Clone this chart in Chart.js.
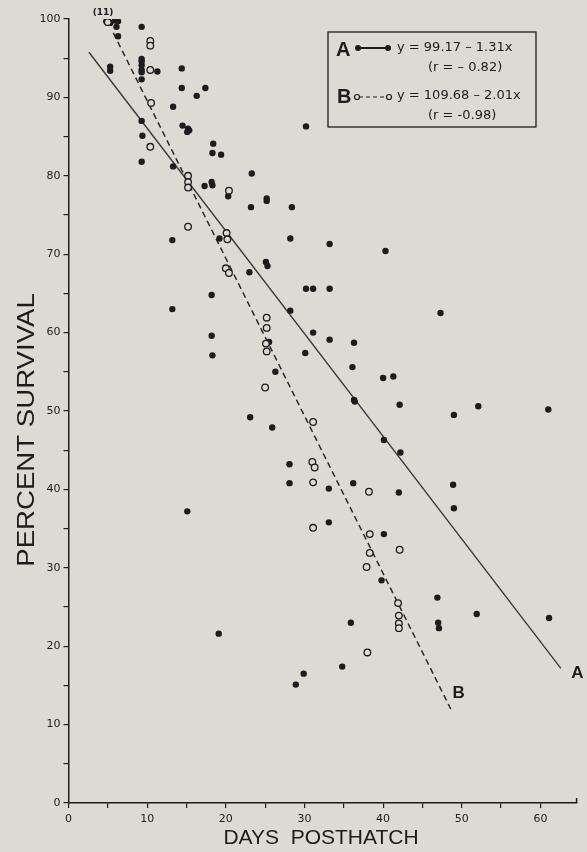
<!DOCTYPE html>
<html>
<head>
<meta charset="utf-8">
<script src="https://cdn.jsdelivr.net/npm/chart.js@4.4.1/dist/chart.umd.min.js"></script>
<style>
  html, body { margin: 0; padding: 0; background: #dcdad2; }
  #wrap { width: 587px; height: 852px; }
</style>
</head>
<body>
<div id="wrap"><canvas id="survivalChart"></canvas></div>
<script>
const ink = '#1c1c1c';
const paper = '#dcdad2';

// A: filled dots
const aDays = [4.8, 5.3, 5.9, 6.3, 6.1, 6.3, 9.3, 5.3, 5.3,
  9.3, 9.3, 9.3, 9.3, 9.3, 9.3, 11.3, 14.4, 14.4, 16.3, 17.4,
  13.3, 9.3, 14.5, 15.2, 15.35, 15.1, 9.4, 9.3, 18.4, 18.3, 19.4, 13.3,
  17.3, 18.2, 18.3, 20.3, 30.2, 23.3, 25.2,
  13.2, 19.2, 18.2, 13.2, 18.2, 18.3,
  23.2, 25.2, 28.4, 28.2, 33.2, 40.3, 25.1, 25.3, 23.0, 30.2, 31.1, 33.2, 28.2,
  31.1, 33.2, 36.3, 25.5, 30.1, 36.1, 26.3, 40.0, 41.3, 36.3, 36.4, 42.1,
  47.3, 52.1, 61.0, 15.1,
  23.1, 25.9, 40.1, 42.2, 28.1, 28.1, 33.1, 36.2, 42.0, 33.1, 40.1, 39.8,
  49.0, 48.9, 49.0, 46.9, 51.9, 61.1, 47.0, 47.1,
  19.1, 35.9, 34.8, 29.9, 28.9];
const aSurvival = [99.7, 99.5, 99.8, 99.7, 99.0, 97.8, 99.0, 93.9, 93.4,
  94.9, 94.6, 94.1, 93.5, 93.2, 92.3, 93.3, 93.7, 91.2, 90.2, 91.2,
  88.8, 87.0, 86.4, 86.0, 85.8, 85.6, 85.1, 81.8, 84.1, 82.9, 82.7, 81.2,
  78.7, 79.2, 78.8, 77.4, 86.3, 80.3, 77.1,
  71.8, 72.0, 64.8, 63.0, 59.6, 57.1,
  76.0, 76.8, 76.0, 72.0, 71.3, 70.4, 69.0, 68.5, 67.7, 65.6, 65.6, 65.6, 62.8,
  60.0, 59.1, 58.7, 58.8, 57.4, 55.6, 55.0, 54.2, 54.4, 51.4, 51.2, 50.8,
  62.5, 50.6, 50.2, 37.2,
  49.2, 47.9, 46.3, 44.7, 43.2, 40.8, 40.1, 40.8, 39.6, 35.8, 34.3, 28.4,
  49.5, 40.6, 37.6, 26.2, 24.1, 23.6, 23.0, 22.3,
  21.6, 23.0, 17.4, 16.5, 15.1];

// B: open circles
const bDays = [5.0, 10.4, 10.4, 10.4, 10.5, 10.4, 15.2, 15.2, 15.2, 20.4,
  15.2, 20.1, 20.2, 20.0, 20.4, 25.2, 25.2, 25.1, 25.2, 25.0,
  31.1, 31.0, 31.3, 31.1, 38.2, 31.1, 38.3, 42.1, 38.3, 37.9,
  41.9, 42.0, 42.0, 42.0, 38.0];
const bSurvival = [99.6, 97.2, 96.6, 93.5, 89.3, 83.7, 80.0, 79.2, 78.5, 78.1,
  73.5, 72.7, 71.9, 68.2, 67.6, 61.9, 60.6, 58.6, 57.6, 53.0,
  48.6, 43.5, 42.8, 40.9, 39.7, 35.1, 34.3, 32.3, 31.9, 30.1,
  25.5, 23.9, 22.9, 22.3, 19.2];

// regression lines as printed in the key, with the x range they are drawn over
const lineA = { intercept: 99.17, slope: -1.31, xFrom: 2.6, xTo: 62.6 };
const lineB = { intercept: 109.68, slope: -2.01, xFrom: 5.7, xTo: 48.6 };

const xMax = 64.6;
const yMax = 100;

function pairs(xs, ys) {
  return xs.map((v, i) => ({ x: v, y: ys[i] }));
}
function ends(l) {
  return [l.xFrom, l.xTo].map(v => ({ x: v, y: l.intercept + l.slope * v }));
}

const annotations = {
  id: 'annotations',
  afterDraw(chart) {
    const { ctx, chartArea, scales: { x, y } } = chart;
    ctx.save();
    ctx.fillStyle = ink;
    ctx.strokeStyle = ink;

    // little hook at the end of the x axis
    ctx.lineWidth = 1.5;
    ctx.beginPath();
    ctx.moveTo(chartArea.right, chartArea.bottom);
    ctx.lineTo(chartArea.right, chartArea.bottom - 5);
    ctx.stroke();

    // axis titles
    ctx.textAlign = 'center';
    ctx.textBaseline = 'middle';
    ctx.font = '21px "Liberation Sans"';
    ctx.fillText('DAYS  POSTHATCH', 321, 838);
    ctx.save();
    ctx.translate(28, 430);
    ctx.rotate(-Math.PI / 2);
    ctx.scale(1.2, 1);
    ctx.font = '23px "Liberation Sans"';
    ctx.fillText('PERCENT SURVIVAL', 0, 0);
    ctx.restore();

    // line end labels
    ctx.font = 'bold 17px "Liberation Sans"';
    ctx.fillText('A', x.getPixelForValue(64.7), y.getPixelForValue(16.6));
    ctx.fillText('B', x.getPixelForValue(49.6), y.getPixelForValue(14.0));

    // count of coincident points
    ctx.font = 'bold 9px "DejaVu Sans"';
    ctx.fillText('(11)', x.getPixelForValue(4.4), y.getPixelForValue(yMax) - 6);

    // key box
    ctx.lineWidth = 1.3;
    ctx.strokeRect(328, 32, 208, 95);
    ctx.textAlign = 'left';
    ctx.font = 'bold 20px "Liberation Sans"';
    ctx.fillText('A', 336, 50);
    ctx.fillText('B', 337, 97);

    ctx.lineWidth = 2;
    ctx.beginPath();
    ctx.moveTo(358, 48); ctx.lineTo(388, 48);
    ctx.stroke();
    ctx.beginPath(); ctx.arc(358, 48, 3, 0, Math.PI * 2); ctx.fill();
    ctx.beginPath(); ctx.arc(388, 48, 3, 0, Math.PI * 2); ctx.fill();

    ctx.lineWidth = 1.2;
    ctx.setLineDash([4, 3]);
    ctx.beginPath();
    ctx.moveTo(359, 97); ctx.lineTo(387, 97);
    ctx.stroke();
    ctx.setLineDash([]);
    ctx.beginPath(); ctx.arc(357, 97, 2.5, 0, Math.PI * 2); ctx.stroke();
    ctx.beginPath(); ctx.arc(389, 97, 2.5, 0, Math.PI * 2); ctx.stroke();

    ctx.font = '13px "DejaVu Sans"';
    ctx.fillText('y = 99.17 \u2013 1.31x', 397, 48);
    ctx.fillText('(r = \u2013 0.82)', 428, 68);
    ctx.fillText('y = 109.68 \u2013 2.01x', 397, 96);
    ctx.fillText('(r = -0.98)', 428, 116);
    ctx.restore();
  }
};

const tickFont = { family: 'DejaVu Sans', size: 11 };

new Chart(document.getElementById('survivalChart'), {
  type: 'scatter',
  data: {
    datasets: [
      {
        label: 'A',
        data: pairs(aDays, aSurvival),
        pointRadius: 3.2,
        pointBackgroundColor: ink,
        pointBorderColor: ink,
        pointBorderWidth: 0,
        order: 1
      },
      {
        label: 'B',
        data: pairs(bDays, bSurvival),
        pointRadius: 3.3,
        pointBackgroundColor: paper,
        pointBorderColor: ink,
        pointBorderWidth: 1.3,
        order: 0
      },
      {
        label: 'A fit',
        data: ends(lineA),
        showLine: true,
        pointRadius: 0,
        borderColor: '#3a3a3a',
        borderWidth: 1.4,
        order: 3
      },
      {
        label: 'B fit',
        data: ends(lineB),
        showLine: true,
        pointRadius: 0,
        borderColor: '#2a2a2a',
        borderWidth: 1.5,
        borderDash: [6, 4],
        order: 2
      }
    ]
  },
  options: {
    responsive: true,
    maintainAspectRatio: false,
    animation: false,
    layout: { padding: { top: 19, right: 10.4, left: 0, bottom: 0 } },
    plugins: { legend: { display: false }, tooltip: { enabled: false } },
    scales: {
      x: {
        type: 'linear',
        min: 0,
        max: xMax,
        afterFit: s => { s.height = 49; },
        ticks: {
          stepSize: 5,
          includeBounds: false,
          maxRotation: 0,
          autoSkip: false,
          color: ink,
          font: tickFont,
          padding: 5,
          callback: v => (v % 10 === 0 ? v : '')
        },
        grid: { drawOnChartArea: false, drawTicks: true, tickLength: 5, color: ink, lineWidth: 1.2 },
        border: { color: ink, width: 1.5 }
      },
      y: {
        min: 0,
        max: yMax,
        afterFit: s => { s.width = 68.5; },
        ticks: {
          stepSize: 5,
          autoSkip: false,
          color: ink,
          font: tickFont,
          padding: 3,
          callback: v => (v % 10 === 0 ? v : '')
        },
        grid: { drawOnChartArea: false, drawTicks: true, tickLength: 5, color: ink, lineWidth: 1.2 },
        border: { color: ink, width: 1.5 }
      }
    }
  },
  plugins: [annotations]
});
</script>
</body>
</html>
